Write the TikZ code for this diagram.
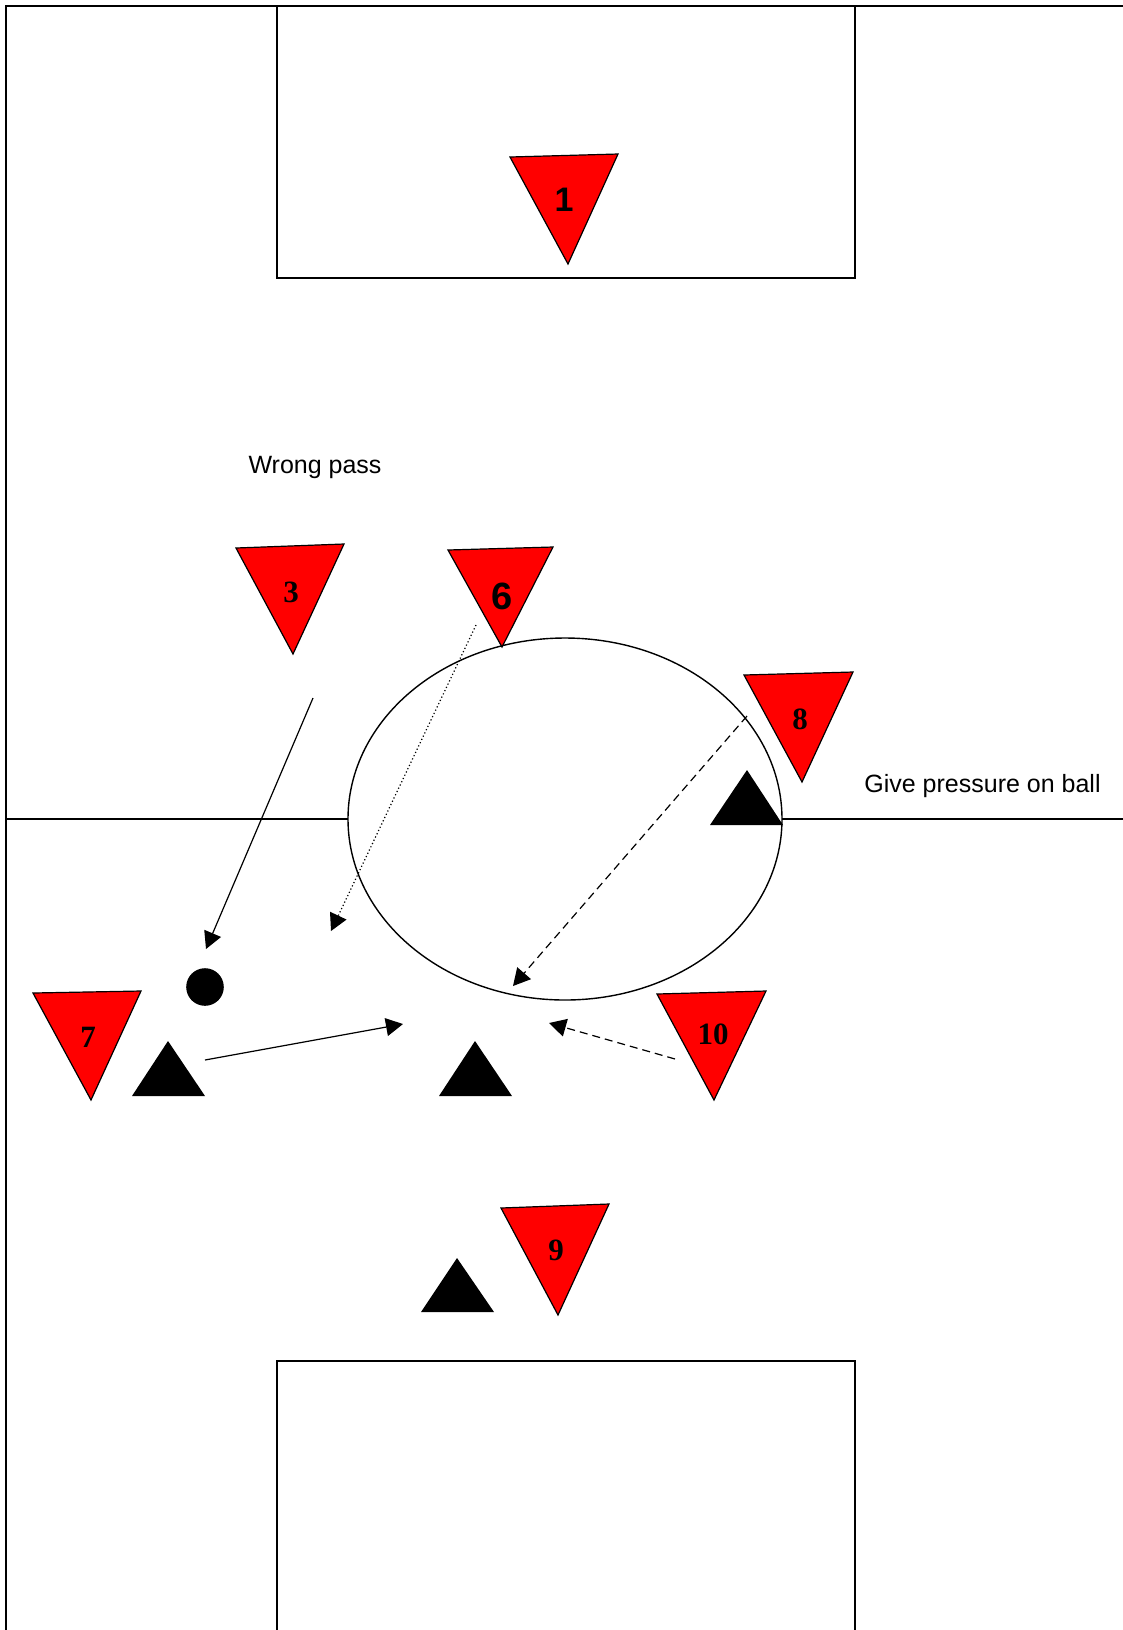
\documentclass[tikz,border=0pt]{standalone}
\usepackage{fontspec}
\setmainfont{Liberation Serif}
\setsansfont{Liberation Sans}
\usetikzlibrary{arrows.meta}

\tikzset{
  line/.style={line width=0.9pt},
  team/.style={fill=red, draw=black, line width=0.6pt, line join=miter},
  opponent/.style={fill=black},
  num/.style={font=\fontsize{15.5}{18}\selectfont\bfseries},
  numsf/.style={font=\fontsize{17}{20}\selectfont\sffamily\bfseries},
  note/.style={font=\fontsize{12.5}{15}\selectfont\sffamily},
  pass/.style={line width=0.6pt, -{Triangle[length=8.5pt,width=9pt]}},
  run/.style={pass, dash pattern=on 4pt off 2.5pt},
}

\begin{document}
\begin{tikzpicture}[x=0.5pt, y=-0.5pt]
  \useasboundingbox (0,0) rectangle (1123,1630);

  % pitch
  \draw[line] (6,1630) -- (6,6) -- (1123,6);
  \draw[line] (277,6) rectangle (855,278);
  \draw[line] (277,1630) -- (277,1361) -- (855,1361) -- (855,1630);
  \draw[line] (6,819) -- (1123,819);
  \draw[line width=0.7pt, fill=white] (565,819) ellipse [x radius=108.5pt, y radius=90.5pt];

  % red team
  \draw[team] (510,157) -- (618,154) -- (568,264) -- cycle;
  \node[numsf] (n1) at (564,200) {1};
  \draw[team] (236,548) -- (344,544) -- (293,654) -- cycle;
  \node[num] (n3) at (291,592) {3};
  \draw[team] (448,550) -- (553,547) -- (502,647) -- cycle;
  \node[numsf, font=\fontsize{19}{22}\selectfont\sffamily\bfseries] (n6) at (502,596) {6};
  \draw[team] (744,675) -- (853,672) -- (802,782) -- cycle;
  \node[num] (n8) at (800,719) {8};
  \draw[team] (33,993) -- (141,991) -- (91,1100) -- cycle;
  \node[num] (n7) at (88,1037) {7};
  \draw[team] (657,994) -- (766,991) -- (714,1100) -- cycle;
  \node[num] (n10) at (713,1034) {10};
  \draw[team] (501,1208) -- (609,1204) -- (558,1315) -- cycle;
  \node[num] (n9) at (556,1250) {9};

  % opponents
  \fill[opponent] (710,825) -- (783,825) -- (747,770) -- cycle;
  \fill[opponent] (132,1096) -- (205,1096) -- (168,1041) -- cycle;
  \fill[opponent] (439,1096) -- (512,1096) -- (475,1041) -- cycle;
  \fill[opponent] (421,1312) -- (494,1312) -- (457,1258) -- cycle;

  % ball
  \fill (205,987) circle [radius=9.4pt];

  % movements
  \coordinate (a1) at (313,698);
  \coordinate (b1) at (206,949);
  \coordinate (a2) at (476,625);
  \coordinate (b2) at (331,931);
  \coordinate (a3) at (747,716);
  \coordinate (b3) at (513,986);
  \coordinate (a4) at (205,1060);
  \coordinate (b4) at (403,1024);
  \coordinate (a5) at (675,1059);
  \coordinate (b5) at (549,1023);
  \draw[pass] (a1) -- (b1);
  \draw[pass, dash pattern=on 0.6pt off 1.2pt] (a2) -- (b2);
  \draw[run] (a3) -- (b3);
  \draw[pass] (a4) -- (b4);
  \draw[run] (a5) -- (b5);

  \node[note] (wrong) at (315,467) {Wrong pass};
  \node[note, anchor=west, inner sep=0pt] (press) at (864,786) {Give pressure on ball};
\end{tikzpicture}
\end{document}
